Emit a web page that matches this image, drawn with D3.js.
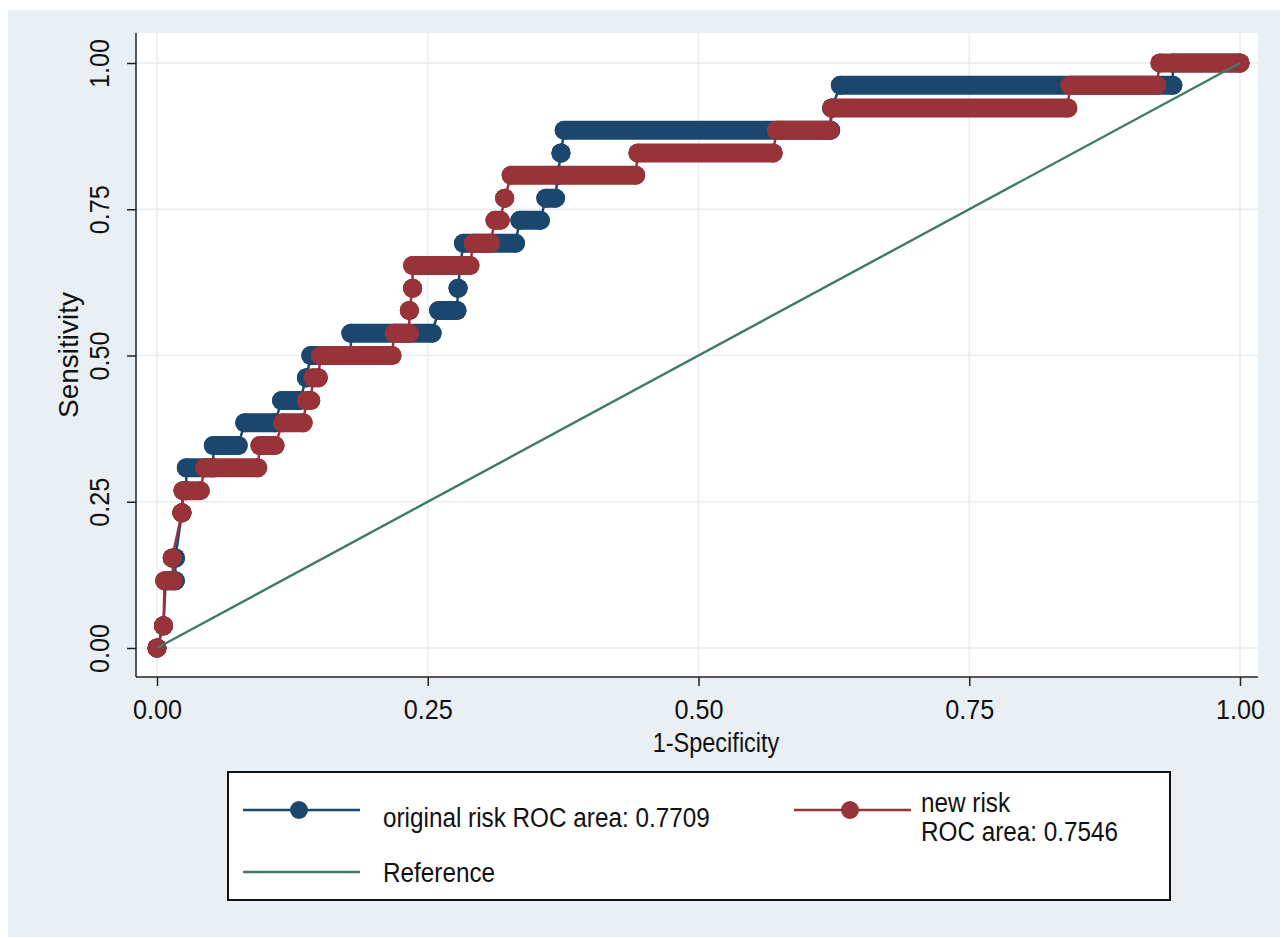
<!DOCTYPE html>
<html>
<head>
<meta charset="utf-8">
<script src="https://cdnjs.cloudflare.com/ajax/libs/d3/7.8.5/d3.min.js"></script>
<style>
body { margin: 0; background: white; }
text { font-family: "Liberation Sans", Arial, Helvetica, sans-serif; fill: #111; }
</style>
</head>
<body>
<script>
//Data
//Each series is a list of runs: sensitivity level, first and last 1-specificity on that level
var origSens = [0.000, 0.038, 0.115, 0.154, 0.231, 0.269, 0.308, 0.346, 0.385, 0.423, 0.462, 0.500, 0.538,
                0.577, 0.615, 0.654, 0.692, 0.731, 0.769, 0.808, 0.846, 0.885, 0.923, 0.962, 1.000];
var origFrom = [0.000, 0.006, 0.008, 0.017, 0.023, 0.024, 0.027, 0.052, 0.081, 0.115, 0.138, 0.142, 0.179,
                0.260, 0.278, 0.280, 0.283, 0.335, 0.359, 0.370, 0.373, 0.376, 0.623, 0.631, 0.938];
var origTo   = [0.000, 0.006, 0.017, 0.017, 0.023, 0.027, 0.052, 0.075, 0.109, 0.132, 0.138, 0.179, 0.254,
                0.277, 0.278, 0.280, 0.331, 0.354, 0.368, 0.370, 0.373, 0.622, 0.623, 0.938, 1.000];

var newSens = [0.000, 0.038, 0.115, 0.154, 0.231, 0.269, 0.308, 0.346, 0.385, 0.423, 0.462, 0.500, 0.538,
               0.577, 0.615, 0.654, 0.692, 0.731, 0.769, 0.808, 0.846, 0.885, 0.923, 0.962, 1.000];
var newFrom = [0.000, 0.006, 0.007, 0.014, 0.023, 0.024, 0.044, 0.095, 0.116, 0.138, 0.144, 0.151, 0.219,
               0.233, 0.236, 0.236, 0.292, 0.312, 0.321, 0.327, 0.444, 0.572, 0.623, 0.843, 0.926];
var newTo   = [0.000, 0.006, 0.015, 0.014, 0.023, 0.040, 0.093, 0.109, 0.135, 0.142, 0.149, 0.217, 0.233,
               0.233, 0.236, 0.289, 0.308, 0.317, 0.321, 0.442, 0.569, 0.621, 0.841, 0.923, 1.000];

//Reference diagonal
var refLine = [[0, 0], [1, 1]];

//Ticks and labels
var tickValues = [0, 0.25, 0.5, 0.75, 1];
var xTitle = "1-Specificity";
var yTitle = "Sensitivity";
var origLabel = ["original risk ROC area: 0.7709"];
var newLabel = ["new risk", "ROC area: 0.7546"];
var refLabel = ["Reference"];

//Parameters
var w = 1284;
var h = 938;
var pageBackground = "#e9eff2";
var gridColor = "#e9edf1";
var axisColor = "#222";
var origColor = "#1b476f";
var newColor = "#98333a";
var refColor = "#3f7b6a";
var markerRadius = 9.5;
var lineWidth = 2.5;

//Stata's Helvetica looks tall and narrow: bigger font, squeezed along the text
var fontSize = 28;
var squeeze = 0.9;

//Plot region
var plotLeft = 136, plotRight = 1258, plotTop = 33, plotBottom = 677;

var x = d3.scaleLinear().domain([0, 1]).range([157, 1240]);
var y = d3.scaleLinear().domain([0, 1]).range([648, 63]);

var svg = d3.select("body").append("svg")
    .attr("width", w)
    .attr("height", h);

//Place a piece of text, centred or left aligned, rotated or not
function addText(parent, tx, ty, str, size, sx, angle, anchor) {
    return parent.append("text")
        .attr("transform", "translate(" + tx + "," + ty + ") rotate(" + angle + ") scale(" + sx + ",1)")
        .attr("text-anchor", anchor)
        .attr("dominant-baseline", "central")
        .style("font-size", size + "px")
        .text(str);
}

//Graph background
svg.append("rect")
    .attr("x", 8)
    .attr("y", 10)
    .attr("width", 1272)
    .attr("height", 927)
    .attr("fill", pageBackground);

svg.append("rect")
    .attr("x", plotLeft)
    .attr("y", plotTop)
    .attr("width", plotRight - plotLeft)
    .attr("height", plotBottom - plotTop)
    .attr("fill", "white");

//Grid
svg.append("g").selectAll("line")
    .data(tickValues)
    .join("line")
    .attr("x1", d => x(d)).attr("x2", d => x(d))
    .attr("y1", plotTop).attr("y2", plotBottom)
    .attr("stroke", gridColor)
    .attr("stroke-width", 1.5);

svg.append("g").selectAll("line")
    .data(tickValues)
    .join("line")
    .attr("x1", plotLeft).attr("x2", plotRight)
    .attr("y1", d => y(d)).attr("y2", d => y(d))
    .attr("stroke", gridColor)
    .attr("stroke-width", 1.5);

//Axes
var fmt = d3.format(".2f");

var yAxis = svg.append("g")
    .attr("transform", "translate(" + plotLeft + ",0)")
    .call(d3.axisLeft(y).tickValues(tickValues).tickFormat(fmt).tickSizeInner(9).tickSizeOuter(0));
yAxis.select(".domain").remove();
yAxis.selectAll(".tick line").attr("stroke", axisColor).attr("stroke-width", 1.5);
yAxis.selectAll(".tick text")
    .attr("x", null)
    .attr("dy", null)
    .attr("transform", "translate(-36,0) rotate(-90) scale(" + squeeze + ",1)")
    .attr("text-anchor", "middle")
    .attr("dominant-baseline", "central")
    .attr("fill", "#111")
    .style("font-size", fontSize + "px")
    .style("font-family", null);

var xAxis = svg.append("g")
    .attr("transform", "translate(0," + plotBottom + ")")
    .call(d3.axisBottom(x).tickValues(tickValues).tickFormat(fmt).tickSizeInner(9).tickSizeOuter(0));
xAxis.select(".domain").remove();
xAxis.selectAll(".tick line").attr("stroke", axisColor).attr("stroke-width", 1.5);
xAxis.selectAll(".tick text")
    .attr("y", null)
    .attr("dy", null)
    .attr("transform", "translate(0,33) scale(" + squeeze + ",1)")
    .attr("dominant-baseline", "central")
    .attr("fill", "#111")
    .style("font-size", fontSize + "px")
    .style("font-family", null);

//Axis lines span the whole plot region
svg.append("line")
    .attr("x1", plotLeft).attr("x2", plotLeft)
    .attr("y1", plotTop).attr("y2", plotBottom)
    .attr("stroke", axisColor).attr("stroke-width", 1.5);
svg.append("line")
    .attr("x1", plotLeft).attr("x2", plotRight)
    .attr("y1", plotBottom).attr("y2", plotBottom)
    .attr("stroke", axisColor).attr("stroke-width", 1.5);

//Axis titles
addText(svg, 716, 742, xTitle, fontSize, 0.84, 0, "middle");
addText(svg, 68, (plotTop + plotBottom) / 2, yTitle, fontSize, 1, -90, "middle");

//Draw one ROC series: connecting line, then markers (runs of overlapping markers as capsules)
function drawSeries(sens, from, to, color) {
    var pts = [];
    sens.forEach(function (s, i) {
        pts.push([x(from[i]), y(s)]);
        pts.push([x(to[i]), y(s)]);
    });
    var g = svg.append("g");
    g.append("path")
        .attr("d", d3.line()(pts))
        .attr("fill", "none")
        .attr("stroke", color)
        .attr("stroke-width", lineWidth);
    g.selectAll("line")
        .data(sens)
        .join("line")
        .attr("x1", (d, i) => x(from[i]))
        .attr("x2", (d, i) => x(to[i]))
        .attr("y1", d => y(d))
        .attr("y2", d => y(d))
        .attr("stroke", color)
        .attr("stroke-width", markerRadius * 2)
        .attr("stroke-linecap", "round");
    g.selectAll("circle")
        .data(pts)
        .join("circle")
        .attr("cx", d => d[0])
        .attr("cy", d => d[1])
        .attr("r", markerRadius)
        .attr("fill", color);
}

drawSeries(origSens, origFrom, origTo, origColor);
drawSeries(newSens, newFrom, newTo, newColor);

//Reference line
svg.append("path")
    .attr("d", d3.line().x(d => x(d[0])).y(d => y(d[1]))(refLine))
    .attr("fill", "none")
    .attr("stroke", refColor)
    .attr("stroke-width", 2.4);

//Legend
var legend = svg.append("g");
legend.append("rect")
    .attr("x", 228)
    .attr("y", 772)
    .attr("width", 942)
    .attr("height", 128)
    .attr("fill", "white")
    .attr("stroke", "#111")
    .attr("stroke-width", 2);

function legendKey(x0, yk, color, withMarker) {
    legend.append("line")
        .attr("x1", x0).attr("x2", x0 + 117)
        .attr("y1", yk).attr("y2", yk)
        .attr("stroke", color)
        .attr("stroke-width", lineWidth);
    if (withMarker) {
        legend.append("circle")
            .attr("cx", x0 + 56)
            .attr("cy", yk)
            .attr("r", 9)
            .attr("fill", color);
    }
}

function legendText(x0, ys, lines) {
    lines.forEach(function (str, i) {
        addText(legend, x0, ys[i], str, 27, 0.9, 0, "start");
    });
}

legendKey(243, 810, origColor, true);
legendText(383, [818], origLabel);
legendKey(794, 810, newColor, true);
legendText(921, [803, 832], newLabel);
legendKey(243, 872, refColor, false);
legendText(383, [873], refLabel);
</script>
</body>
</html>
